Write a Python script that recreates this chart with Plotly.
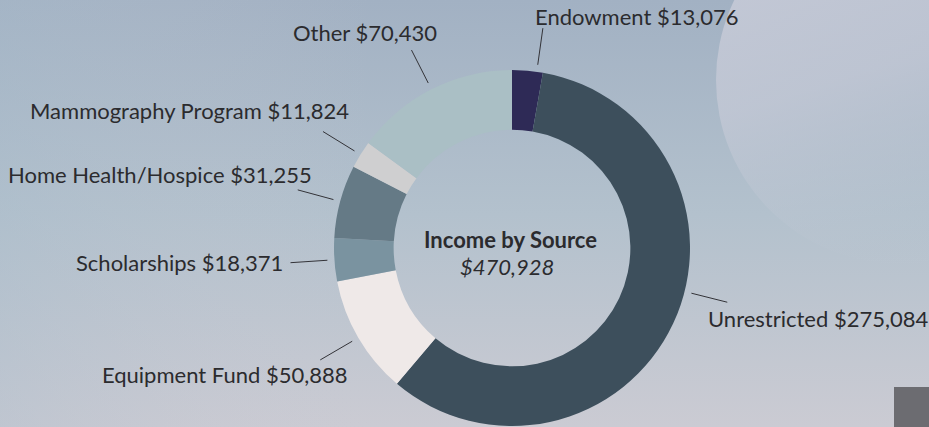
import math
import urllib.parse
import plotly.graph_objects as go

# ---- data ----
categories = ["Endowment", "Unrestricted", "Equipment Fund", "Scholarships",
              "Home Health/Hospice", "Mammography Program", "Other"]
values = [13076, 275084, 50888, 18371, 31255, 11824, 70430]
colors = ["#2e2a56", "#3d4f5c", "#efe9e8", "#7a93a0", "#657a86", "#cfcfd0", "#aabfc5"]
center_title = "Income by Source"
total = sum(values)
center_value = "${:,}".format(total)

# ---- layout constants ----
W, H = 929, 427
CX, CY, R = 512, 248, 178          # pie centre / radius in pixels
HOLE = 0.665
R_IN, R_OUT = 185, 222              # leader line radii (px)
FONT = "Lato, 'Open Sans', sans-serif"
TXT = "#2b2b2e"
FS = 22

# per-label leader/label styling: angle shift (deg), xanchor, yanchor, xshift, yshift
label_style = {
    "Endowment": (3, "left", "middle", -10, 12),
    "Unrestricted": (-11, "left", "middle", -21, -16),
    "Equipment Fund": (0, "right", "middle", 29, -15),
    "Scholarships": (0, "right", "middle", -5, 0),
    "Home Health/Hospice": (0, "right", "middle", 16, 15),
    "Mammography Program": (0, "right", "middle", 28, 21),
    "Other": (0, "right", "middle", 28, 18),
}


def px2paper(x, y):
    return x / W, (H - y) / H


def polar(angle_deg, r):
    a = math.radians(angle_deg)
    return CX + r * math.sin(a), CY - r * math.cos(a)


x0, _ = px2paper(CX - R, 0)
x1, _ = px2paper(CX + R, 0)
_, y0 = px2paper(0, CY + R)
_, y1 = px2paper(0, CY - R)

fig = go.Figure(go.Pie(
    labels=categories, values=values, sort=False, direction="clockwise",
    rotation=0, hole=HOLE, textinfo="none", hoverinfo="label+value",
    marker=dict(colors=colors, line=dict(width=0)),
    domain=dict(x=[x0, x1], y=[y0, y1]), showlegend=False,
))

shapes = []
annotations = []
cum = 0
for cat, v in zip(categories, values):
    mid = (cum + v / 2) / total * 360
    cum += v
    shift, xa, ya, xs, ys = label_style[cat]
    ang = mid + shift
    ax0, ay0 = polar(ang, R_IN)
    ax1, ay1 = polar(ang, R_OUT)
    p0 = px2paper(ax0, ay0)
    p1 = px2paper(ax1, ay1)
    shapes.append(dict(type="line", xref="paper", yref="paper",
                       x0=p0[0], y0=p0[1], x1=p1[0], y1=p1[1],
                       line=dict(color="#333338", width=1)))
    annotations.append(dict(
        x=p1[0], y=p1[1], xref="paper", yref="paper", showarrow=False,
        text="{} ${:,}".format(cat, v), xanchor=xa, yanchor=ya,
        xshift=xs, yshift=ys, font=dict(family=FONT, size=FS, color=TXT)))

tx, ty = px2paper(CX - 2, 240)
annotations.append(dict(x=tx, y=ty, xref="paper", yref="paper", showarrow=False,
                        text="<b>" + center_title + "</b>",
                        font=dict(family=FONT, size=FS, color=TXT)))
tx, ty = px2paper(CX - 5, 266)
annotations.append(dict(x=tx, y=ty, xref="paper", yref="paper", showarrow=False,
                        text="<i>" + center_value + "</i>",
                        font=dict(family=FONT, size=FS, color=TXT)))

# decorative square bottom right
shapes.append(dict(type="rect", xref="paper", yref="paper",
                   x0=894 / W, x1=1.0, y0=0.0, y1=(H - 387) / H,
                   fillcolor="#6c6c71", line=dict(width=0)))

bg_svg = (
    "<svg xmlns='http://www.w3.org/2000/svg' width='929' height='427'>"
    "<defs>"
    "<linearGradient id='g' x1='0' y1='0' x2='0' y2='1'>"
    "<stop offset='0' stop-color='#a2b1c3'/>"
    "<stop offset='0.5' stop-color='#b3c1cd'/>"
    "<stop offset='1' stop-color='#cbcbd3'/>"
    "</linearGradient>"
    "<linearGradient id='h' x1='0' y1='0' x2='1' y2='0'>"
    "<stop offset='0' stop-color='#a9bccb' stop-opacity='0.35'/>"
    "<stop offset='0.4' stop-color='#c8c8d2' stop-opacity='0'/>"
    "</linearGradient>"
    "<linearGradient id='m' x1='0' y1='0' x2='0.3' y2='1'>"
    "<stop offset='0' stop-color='#cdcfdb' stop-opacity='0.9'/>"
    "<stop offset='0.55' stop-color='#c6cad7' stop-opacity='0.7'/>"
    "<stop offset='1' stop-color='#bcc6d2' stop-opacity='0.1'/>"
    "</linearGradient>"
    "</defs>"
    "<rect width='929' height='427' fill='url(#g)'/>"
    "<rect width='929' height='427' fill='url(#h)'/>"
    "<circle cx='900' cy='80' r='184' fill='url(#m)'/>"
    "</svg>"
)
bg_uri = "data:image/svg+xml;charset=utf-8," + urllib.parse.quote(bg_svg)

fig.update_layout(
    width=W, height=H, margin=dict(l=0, r=0, t=0, b=0),
    paper_bgcolor="#b4c0cc", plot_bgcolor="rgba(0,0,0,0)",
    shapes=shapes, annotations=annotations,
    images=[dict(source=bg_uri, xref="paper", yref="paper", x=0, y=1,
                 sizex=1, sizey=1, xanchor="left", yanchor="top",
                 sizing="stretch", layer="below")],
    font=dict(family=FONT),
)

fig.write_html(
    "out.html",
    config={"displayModeBar": False},
    post_script="document.body.style.margin='0';document.body.style.padding='0';"
                "document.body.style.overflow='hidden';",
)
